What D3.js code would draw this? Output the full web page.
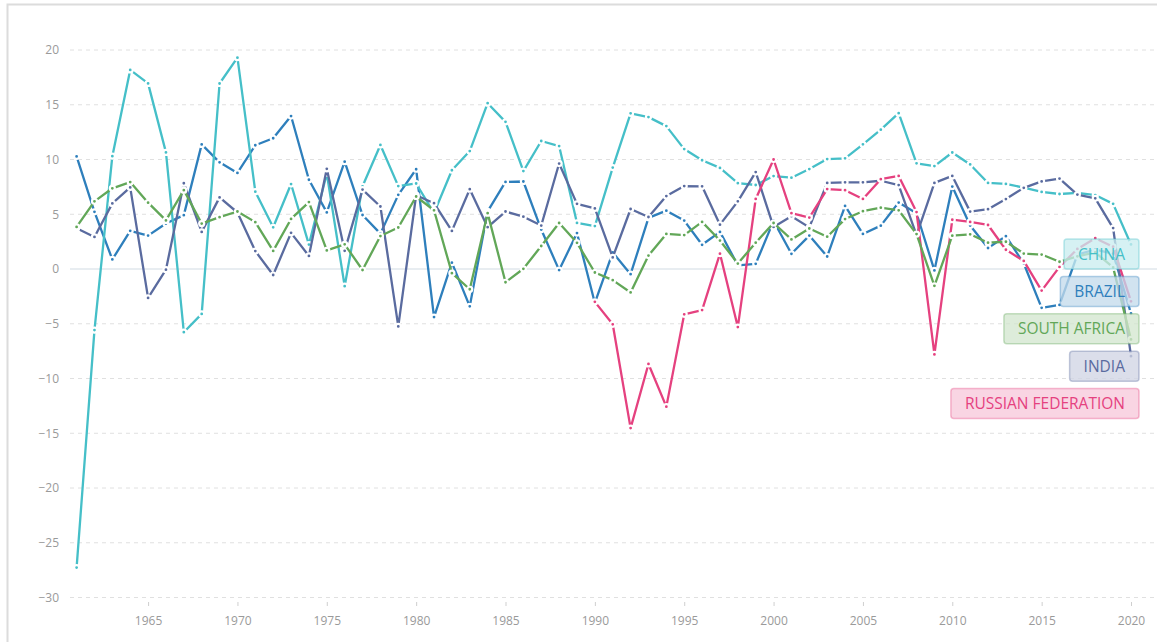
<!DOCTYPE html>
<html>
<head>
<meta charset="utf-8">
<script src="https://cdn.jsdelivr.net/npm/d3@7"></script>
<style>
  html, body { margin: 0; padding: 0; background: #fff; }
  svg { display: block; font-family: "Open Sans", "Noto Sans", sans-serif; }
</style>
</head>
<body>
<svg id="chart" width="1157" height="642"></svg>
<script>
// ---- Data (GDP growth, annual %) ----
const years = d3.range(1961, 2021);
const yTicks = [20, 15, 10, 5, 0, -5, -10, -15, -20, -25, -30];
const xTicks = [1965, 1970, 1975, 1980, 1985, 1990, 1995, 2000, 2005, 2010, 2015, 2020];

const brazil = [10.28, 5.22, 0.87, 3.49, 3.05, 4.15, 4.92, 11.38, 9.74, 8.77, 11.30, 11.94, 13.97, 8.15, 5.17, 9.8, 4.93, 3.23, 6.77, 9.11, -4.39, 0.58, -3.41, 5.27, 7.95, 7.99, 3.60, -0.10, 3.28, -3.10, 1.51, -0.47, 4.67, 5.33, 4.42, 2.21, 3.39, 0.34, 0.47, 4.39, 1.39, 3.05, 1.14, 5.76, 3.20, 3.96, 6.07, 5.09, -0.13, 7.53, 3.97, 1.92, 3.00, 0.50, -3.55, -3.28, 1.32, 1.78, 1.41, -4.06];
const china = [-27.27, -5.58, 10.30, 18.18, 16.95, 10.65, -5.77, -4.10, 16.94, 19.30, 7.06, 3.81, 7.76, 2.23, 8.72, -1.57, 7.55, 11.33, 7.57, 7.81, 5.11, 9.02, 10.77, 15.14, 13.44, 8.94, 11.69, 11.23, 4.21, 3.92, 9.26, 14.22, 13.87, 13.05, 10.95, 9.93, 9.23, 7.84, 7.67, 8.49, 8.34, 9.13, 10.04, 10.11, 11.39, 12.72, 14.23, 9.65, 9.40, 10.64, 9.55, 7.86, 7.77, 7.43, 7.04, 6.85, 6.95, 6.75, 5.95, 2.24];
const india = [3.72, 2.93, 5.99, 7.45, -2.64, -0.06, 7.83, 3.39, 6.54, 5.16, 1.64, -0.55, 3.30, 1.19, 9.15, 1.66, 7.25, 5.71, -5.24, 6.74, 6.01, 3.48, 7.29, 3.82, 5.25, 4.78, 3.97, 9.63, 5.95, 5.53, 1.06, 5.48, 4.75, 6.66, 7.57, 7.55, 4.05, 6.18, 8.85, 3.84, 4.82, 3.80, 7.86, 7.92, 7.92, 8.06, 7.66, 3.09, 7.86, 8.50, 5.24, 5.46, 6.39, 7.41, 8.00, 8.26, 6.80, 6.45, 3.74, -7.96];
const southAfrica = [3.84, 6.18, 7.37, 7.94, 6.06, 4.44, 7.20, 4.15, 4.73, 5.25, 4.28, 1.65, 4.57, 6.11, 1.70, 2.25, -0.09, 3.01, 3.79, 6.62, 5.36, -0.38, -1.85, 5.10, -1.21, 0.02, 2.10, 4.20, 2.39, -0.32, -1.02, -2.14, 1.23, 3.20, 3.10, 4.30, 2.60, 0.50, 2.40, 4.20, 2.70, 3.70, 2.95, 4.56, 5.28, 5.60, 5.36, 3.19, -1.54, 3.04, 3.17, 2.40, 2.49, 1.41, 1.32, 0.66, 1.16, 1.52, 0.15, -6.43];
// Russian Federation: no data before 1990
const russia = [null, null, null, null, null, null, null, null, null, null, null, null, null, null, null, null, null, null, null, null, null, null, null, null, null, null, null, null, null, -3.00, -5.05, -14.53, -8.67, -12.57, -4.14, -3.75, 1.40, -5.30, 6.40, 10.00, 5.10, 4.70, 7.30, 7.20, 6.40, 8.20, 8.50, 5.20, -7.80, 4.50, 4.30, 4.02, 1.76, 0.74, -1.97, 0.19, 1.83, 2.81, 2.03, -2.95];

const seriesNames = ["BRAZIL", "CHINA", "INDIA", "RUSSIAN FEDERATION", "SOUTH AFRICA"];
const seriesValues = [brazil, china, india, russia, southAfrica];
const seriesColors = ["#2e7fbc", "#45bfc8", "#5a6b9f", "#e5417f", "#62a758"];
const labelOrder = ["CHINA", "BRAZIL", "SOUTH AFRICA", "INDIA", "RUSSIAN FEDERATION"];

// ---- Layout ----
const svg = d3.select("#chart");
const W = 1157, H = 642;
const x = d3.scaleLinear().domain([1961, 2020]).range([76.6, 1131]);
const y = d3.scaleLinear().domain([-30, 20]).range([597.5, 50]);

// frame
svg.append("path")
  .attr("d", `M7.5,${H + 2} L7.5,4.5 L${W + 2},4.5`)
  .attr("fill", "none").attr("stroke", "#dcdcdc").attr("stroke-width", 2);

// grid
const grid = svg.append("g");
grid.selectAll("line").data(yTicks).join("line")
  .attr("x1", 70).attr("x2", W)
  .attr("y1", d => y(d)).attr("y2", d => y(d))
  .attr("stroke", d => d === 0 ? "#e8edf1" : "#e0e0e0")
  .attr("stroke-width", d => d === 0 ? 2 : 1)
  .attr("stroke-dasharray", d => d === 0 ? null : "4,4");

// y axis labels
const yAxis = d3.axisLeft(y).tickValues(yTicks).tickSize(0).tickPadding(0).tickFormat(d3.format("d"));
const gy = svg.append("g").attr("transform", "translate(59,0)").call(yAxis);
gy.select(".domain").remove();
gy.selectAll("text").attr("fill", "#9a9a9a").attr("font-size", 12)
  .attr("font-family", "'Open Sans', sans-serif");

// x axis
const xAxis = d3.axisBottom(x).tickValues(xTicks).tickSize(4).tickPadding(10).tickFormat(d3.format("d"));
const gx = svg.append("g").attr("transform", "translate(0,602)").call(xAxis);
gx.select(".domain").remove();
gx.selectAll(".tick line").attr("stroke", "#cfcfcf");
gx.selectAll("text").attr("fill", "#9a9a9a").attr("font-size", 12)
  .attr("font-family", "'Open Sans', sans-serif");

// lines
const line = d3.line()
  .defined(d => d.v !== null)
  .x(d => x(d.year)).y(d => y(d.v));

const series = seriesNames.map((name, i) => ({
  name, color: seriesColors[i],
  points: years.map((yr, j) => ({ year: yr, v: seriesValues[i][j] }))
}));

const gs = svg.append("g").selectAll("g").data(series).join("g");
gs.append("path")
  .attr("d", d => line(d.points))
  .attr("fill", "none")
  .attr("stroke", d => d.color)
  .attr("stroke-width", 2.3)
  .attr("stroke-linejoin", "round");
gs.each(function (s) {
  d3.select(this).selectAll("circle")
    .data(s.points.filter(p => p.v !== null))
    .join("circle")
    .attr("cx", p => x(p.year)).attr("cy", p => y(p.v))
    .attr("r", 2.5)
    .attr("fill", s.color)
    .attr("stroke", "#fff").attr("stroke-width", 2.2);
});

// end labels
const labelRight = x(2020) + 8;
const labelTop = 239, labelStep = 37.4, labelH = 30;
const lg = svg.append("g");
labelOrder.forEach((name, k) => {
  const s = series.find(d => d.name === name);
  const g = lg.append("g");
  const t = g.append("text")
    .attr("y", labelTop + k * labelStep + labelH / 2)
    .attr("dy", "0.36em")
    .attr("font-size", 15.5)
    .attr("font-family", "'Open Sans', sans-serif")
    .attr("fill", s.color)
    .attr("text-anchor", "middle")
    .text(name);
  const tw = t.node().getComputedTextLength();
  const w = tw + 28;
  t.attr("x", labelRight - w / 2);
  g.insert("rect", "text")
    .attr("x", labelRight - w).attr("y", labelTop + k * labelStep)
    .attr("width", w).attr("height", labelH)
    .attr("rx", 3)
    .attr("fill", s.color).attr("fill-opacity", 0.22)
    .attr("stroke", s.color).attr("stroke-opacity", 0.35).attr("stroke-width", 1.5);
  g.insert("rect", "rect")
    .attr("x", labelRight - w).attr("y", labelTop + k * labelStep)
    .attr("width", w).attr("height", labelH)
    .attr("rx", 3)
    .attr("fill", "#fff").attr("fill-opacity", 0.7);
});
</script>
</body>
</html>
